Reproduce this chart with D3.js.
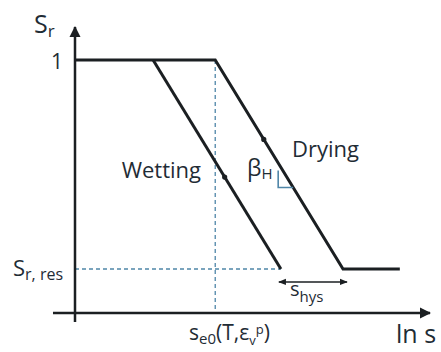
<!DOCTYPE html>
<html>
<head>
<meta charset="utf-8">
<script src="https://cdn.jsdelivr.net/npm/d3@7"></script>
<style>
  html, body { margin: 0; padding: 0; background: #fff; }
  svg { display: block; }
  text { font-family: "Open Sans", "Noto Sans", sans-serif; fill: #1f2c35; }
</style>
</head>
<body>
<script>
// Hysteretic water-retention model: degree of saturation vs. ln(suction)
const sE0 = 3.95;        // air-entry suction (ln units) of the drying branch
const sHys = 1.75;       // horizontal hysteresis width between branches
const branchRun = 3.6;   // ln-suction span of each sloped branch
const srMax = [1];
const srRes = [0.174];
const xEnd = [9.15];

const dryingPts = [
  [0, 1], [sE0, 1], [sE0 + branchRun, srRes[0]], [xEnd[0], srRes[0]]
];
const wettingPts = [
  [sE0 - sHys, 1], [sE0 - sHys + branchRun, srRes[0]]
];

const W = 441, H = 352;
const x = d3.scaleLinear().domain([0, 10]).range([75, 430]);
const y = d3.scaleLinear().domain([0, 1]).range([313, 60]);

const svg = d3.select("body").append("svg").attr("width", W).attr("height", H);

const ink = "#1b1f22", blue = "#4f86a8";

const defs = svg.append("defs");
defs.append("marker").attr("id", "ah").attr("viewBox", "0 0 10 10")
  .attr("refX", 9).attr("refY", 5).attr("markerWidth", 4.5).attr("markerHeight", 4.5)
  .attr("orient", "auto-start-reverse")
  .append("path").attr("d", "M0,0 L10,5 L0,10 z").attr("fill", ink);
defs.append("marker").attr("id", "ahs").attr("viewBox", "0 0 10 10")
  .attr("refX", 9).attr("refY", 5).attr("markerWidth", 6).attr("markerHeight", 6)
  .attr("orient", "auto-start-reverse")
  .append("path").attr("d", "M0,1 L10,5 L0,9 z").attr("fill", ink);

// guide lines
svg.append("line")
  .attr("x1", x(0)).attr("x2", x(wettingPts[1][0]))
  .attr("y1", y(srRes[0])).attr("y2", y(srRes[0]))
  .attr("stroke", blue).attr("stroke-width", 1.3).attr("stroke-dasharray", "4,3");
svg.append("line")
  .attr("x1", x(sE0)).attr("x2", x(sE0))
  .attr("y1", y(1)).attr("y2", y(0))
  .attr("stroke", blue).attr("stroke-width", 1.3).attr("stroke-dasharray", "4,3");

// axes
svg.append("line").attr("x1", x(-0.62)).attr("x2", x(10))
  .attr("y1", y(0)).attr("y2", y(0))
  .attr("stroke", ink).attr("stroke-width", 2.5).attr("marker-end", "url(#ah)");
svg.append("line").attr("x1", x(0)).attr("x2", x(0))
  .attr("y1", y(-0.036)).attr("y2", y(1.13))
  .attr("stroke", ink).attr("stroke-width", 2.5).attr("marker-end", "url(#ah)");

// branches
const line = d3.line().x(d => x(d[0])).y(d => y(d[1]));
svg.append("path").datum(dryingPts).attr("d", line)
  .attr("fill", "none").attr("stroke", ink).attr("stroke-width", 3).attr("stroke-linejoin", "miter");
svg.append("path").datum(wettingPts).attr("d", line)
  .attr("fill", "none").attr("stroke", ink).attr("stroke-width", 3);

// direction dots on branches
function onBranch(p0, p1, t) { return [p0[0] + (p1[0] - p0[0]) * t, p0[1] + (p1[1] - p0[1]) * t]; }
const dDot = onBranch(dryingPts[1], dryingPts[2], 0.38);
const wDot = onBranch(wettingPts[0], wettingPts[1], 0.56);
[dDot, wDot].forEach(p => svg.append("circle").attr("cx", x(p[0])).attr("cy", y(p[1]))
  .attr("r", 2.6).attr("fill", ink));

// slope triangle on drying branch
const triBot = onBranch(dryingPts[1], dryingPts[2], 0.61);
const tbx = x(triBot[0]), tby = y(triBot[1]);
svg.append("path")
  .attr("d", `M${tbx - 15},${tby - 17} L${tbx - 15},${tby} L${tbx},${tby}`)
  .attr("fill", "none").attr("stroke", blue).attr("stroke-width", 1.6);

// s_hys double arrow
svg.append("line")
  .attr("x1", x(wettingPts[1][0]) - 2).attr("x2", x(dryingPts[2][0]) + 4)
  .attr("y1", y(srRes[0]) + 13).attr("y2", y(srRes[0]) + 13)
  .attr("stroke", ink).attr("stroke-width", 1.3)
  .attr("marker-start", "url(#ahs)").attr("marker-end", "url(#ahs)");

// labels
function label(xp, yp, size, parts, anchor) {
  const t = svg.append("text").attr("x", xp).attr("y", yp).attr("font-size", size)
    .attr("text-anchor", anchor || "start");
  parts.forEach(p => {
    const s = t.append("tspan").text(p.t);
    if (p.fs) s.attr("font-size", p.fs);
    if (p.dy) s.attr("dy", p.dy);
  });
  return t;
}
label(34, 33, 25, [{t: "S"}, {t: "r", fs: 17, dy: 4}]);
label(63, 69, 21, [{t: "1"}], "end");
label(13, 276, 22, [{t: "S"}, {t: "r, res", fs: 16, dy: 4}]);
label(396, 343, 25, [{t: "ln s"}]);
label(189, 340, 21, [{t: "s"}, {t: "e0", fs: 15, dy: 4}, {t: "(T,ε", dy: -4},
  {t: "v", fs: 13, dy: 5}, {t: "p", fs: 13, dy: -11}, {t: ")", dy: 6}]);
label(290, 296, 20, [{t: "s"}, {t: "hys", fs: 15, dy: 6}]);
label(292, 157, 22, [{t: "Drying"}]);
label(201, 178, 22, [{t: "Wetting"}], "end");
label(247, 176, 23, [{t: "β"}, {t: "H", fs: 15, dy: 3}]);
</script>
</body>
</html>
